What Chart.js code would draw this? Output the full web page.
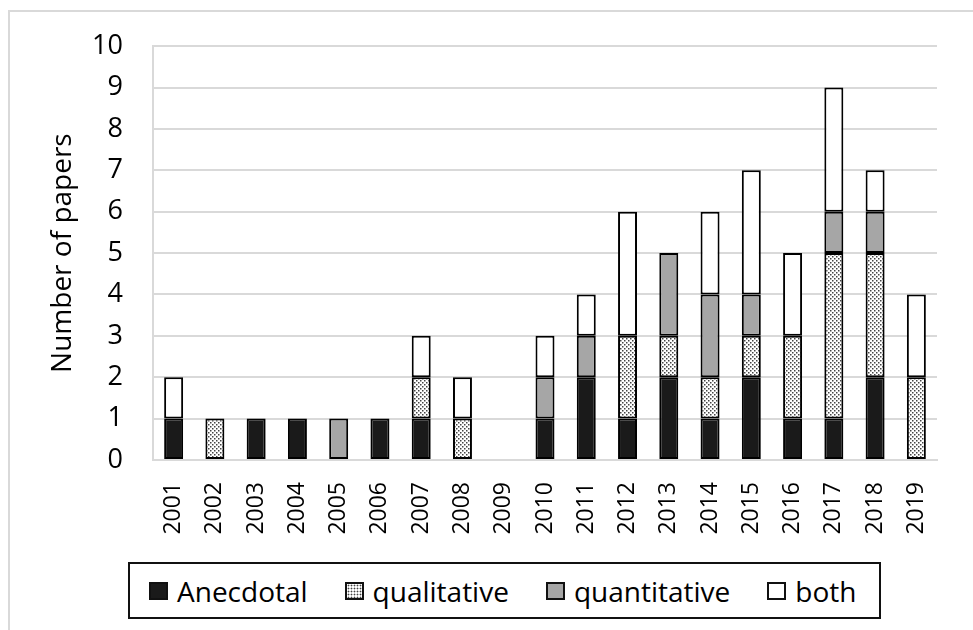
<!DOCTYPE html>
<html>
<head>
<meta charset="utf-8">
<script src="https://cdn.jsdelivr.net/npm/chart.js@4/dist/chart.umd.min.js"></script>
<style>
  body { margin: 0; background: #fff; }
  #wrap { position: relative; width: 973px; height: 630px; overflow: hidden; }
  #frame { position: absolute; left: 8px; top: 10px; width: 1000px; height: 700px;
           border: 2px solid #d9d9d9; box-sizing: border-box; }
  canvas { position: absolute; left: 0; top: 0; }
  #legend { position: absolute; left: 128px; top: 562px; width: 753px; height: 57px;
            border: 2px solid #111; box-sizing: border-box; background: #fff;
            display: flex; align-items: center; padding-left: 19px; white-space: nowrap;
            font-family: 'Open Sans', sans-serif; font-size: 28px; color: #000; }
  #legend .item { display: flex; align-items: center; margin-right: 37px; }
  #legend .sw { display: inline-block; width: 19px; height: 18px; border: 2px solid #111;
                box-sizing: border-box; margin-right: 9px; }
</style>
</head>
<body>
<div id="wrap">
  <div id="frame"></div>
  <canvas id="chart" width="973" height="630"></canvas>
  <div id="legend"></div>
</div>
<script>
// 연도별 논문 수
const years = ["2001","2002","2003","2004","2005","2006","2007","2008","2009","2010",
               "2011","2012","2013","2014","2015","2016","2017","2018","2019"];
const anecdotal    = [1,0,1,1,0,1,1,0,0,1,2,1,2,1,2,1,1,2,0];
const qualitative  = [0,1,0,0,0,0,1,1,0,0,0,2,1,1,1,2,4,3,2];
const quantitative = [0,0,0,0,1,0,0,0,0,1,1,0,2,2,1,0,1,1,0];
const both         = [1,0,0,0,0,0,1,1,0,1,1,3,0,2,3,2,3,1,2];
const seriesNames  = ["Anecdotal","qualitative","quantitative","both"];

// 점무늬 패턴
function dotPattern() {
    const c = document.createElement('canvas');
    c.width = 4; c.height = 4;
    const g = c.getContext('2d');
    g.fillStyle = '#fff';
    g.fillRect(0, 0, 4, 4);
    g.fillStyle = '#444';
    g.fillRect(0, 0, 1.5, 1.5);
    g.fillRect(2, 2, 1.5, 1.5);
    return document.getElementById('chart').getContext('2d').createPattern(c, 'repeat');
}

const fills = ['#1a1a1a', dotPattern(), '#a6a6a6', '#ffffff'];
const swatchCss = ['background:#1a1a1a',
    'background:#fff radial-gradient(#444 0.8px, transparent 1.1px) 0 0/3px 3px',
    'background:#a6a6a6', 'background:#fff'];

const chart = new Chart(document.getElementById('chart'), {
    type: 'bar',
    data: {
        labels: years,
        datasets: [anecdotal, qualitative, quantitative, both].map((d, i) => ({
            label: seriesNames[i],
            data: d.map(v => v || null),   // 0은 그리지 않음
            backgroundColor: fills[i],
            borderColor: '#000',
            borderWidth: 2,
            borderSkipped: false,
            barPercentage: 0.46,
            categoryPercentage: 1.0
        }))
    },
    options: {
        responsive: false,
        animation: false,
        layout: { padding: { left: 46, right: 36, top: 43, bottom: 80 } },
        plugins: { legend: { display: false }, tooltip: { enabled: false } },
        scales: {
            x: {
                stacked: true,
                grid: { display: false },
                border: { display: true, color: '#d9d9d9', width: 2 },
                ticks: { color: '#000', font: { family: 'Open Sans', size: 23 },
                         minRotation: 90, maxRotation: 90, padding: 14 },
                afterFit: s => { s.height = 90; }
            },
            y: {
                stacked: true,
                min: 0, max: 10,
                grid: { color: '#d9d9d9', lineWidth: 2, drawTicks: false },
                border: { display: true, color: '#d9d9d9', width: 2 },
                ticks: { stepSize: 1, color: '#000', padding: 30,
                         font: { family: 'Open Sans', size: 27 } },
                title: { display: true, text: 'Number of papers', color: '#000',
                         font: { family: 'Open Sans', size: 28 }, padding: { top: 0, bottom: 0 } },
                afterFit: s => { s.width = 107; }
            }
        }
    }
});

// 범례
document.getElementById('legend').innerHTML = seriesNames.map((n, i) =>
    '<div class="item"><span class="sw" style="' + swatchCss[i] + '"></span>' + n + '</div>').join('');
</script>
</body>
</html>
